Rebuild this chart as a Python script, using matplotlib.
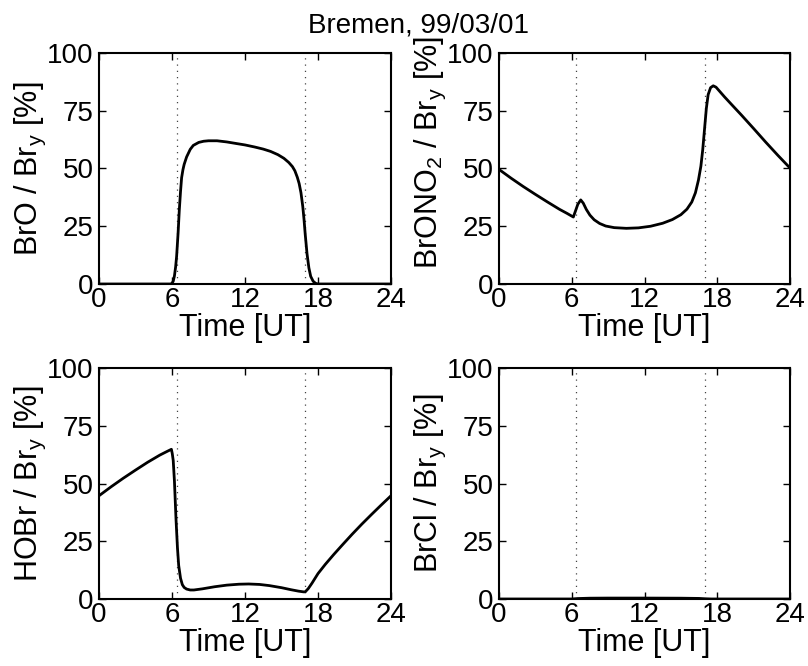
import matplotlib
matplotlib.use('Agg')
import matplotlib.pyplot as plt

plt.rcParams['font.family'] = ['Liberation Sans', 'DejaVu Sans']
plt.rcParams['mathtext.fontset'] = 'custom'
plt.rcParams['mathtext.rm'] = 'Liberation Sans'
plt.rcParams['mathtext.it'] = 'Liberation Sans'
plt.rcParams['mathtext.default'] = 'regular'

title = "Bremen, 99/03/01"
sun_times = [6.38, 16.95]
x_ticks = [0, 6, 12, 18, 24]
y_ticks = [0, 25, 50, 75, 100]

bro_t = [0, 5.9, 6.0, 6.1, 6.2, 6.3, 6.38, 6.5, 6.6, 6.7, 6.79, 6.9, 7.0, 7.2, 7.5, 7.75,
         8.2, 8.6, 9.0, 9.7, 10.5, 11.3, 12.0, 12.8, 13.5, 14.1, 14.7, 15.2, 15.6, 15.9,
         16.1, 16.3, 16.45, 16.6, 16.75, 16.85, 16.95, 17.1, 17.25, 17.4, 17.6, 17.8, 18.0, 24]
bro_v = [0, 0, 0.3, 1.2, 3.5, 7.5, 12, 22, 32, 40, 46, 49.5, 51.8, 55, 58.3, 60,
         61.3, 61.8, 62.0, 62.0, 61.5, 60.8, 60.2, 59.3, 58.4, 57.4, 56.0, 54.4, 52.6, 50.8,
         49.0, 46.2, 43.5, 39.5, 33.5, 28, 21.5, 13, 7, 3.3, 1.2, 0.3, 0, 0]

brono2_t = [0, 1, 2, 3, 4, 5, 5.6, 6.13, 6.3, 6.5, 6.74, 6.95, 7.2, 7.5, 7.85, 8.3, 8.8,
            9.5, 10.5, 11.5, 12.5, 13.5, 14.3, 15.0, 15.5, 15.9, 16.2, 16.45, 16.65, 16.8,
            16.95, 17.1, 17.25, 17.45, 17.67, 17.9, 18.2, 18.6, 19.2, 20.0, 21.0, 22.0, 23.0, 24]
brono2_v = [49.6, 45.8, 42.2, 38.8, 35.5, 32.3, 30.6, 29.0, 31.5, 34.5, 36.4, 35, 32.3, 29.8,
            27.8, 26.2, 25.1, 24.4, 24.1, 24.3, 25.0, 26.3, 27.9, 30.0, 32.4, 35.5, 39.5, 45,
            51, 58, 67, 76, 82, 85, 85.8, 85.2, 83.4, 81.0, 77.6, 73.1, 67.3, 61.4, 55.7, 50.2]

hobr_t = [0, 1, 2, 3, 4, 5, 5.6, 5.95, 6.02, 6.1, 6.2, 6.33, 6.45, 6.55, 6.7, 6.85, 7.0,
          7.2, 7.5, 7.8, 8.5, 9.5, 10.5, 11.5, 12.3, 13.2, 14.0, 15.0, 15.8, 16.4, 16.8,
          16.95, 17.2, 17.5, 18.0, 18.6, 19.3, 20.0, 20.8, 21.6, 22.4, 23.2, 24]
hobr_v = [44.7, 48.6, 52.3, 55.8, 59.2, 62.3, 63.9, 64.8, 63, 60, 51, 34.5, 22, 14.5, 9, 6.2,
          5, 4.3, 3.9, 3.9, 4.4, 5.3, 6.0, 6.4, 6.5, 6.3, 5.8, 4.9, 4.0, 3.4, 3.1, 3.1, 4.5,
          6.8, 11, 15, 19.3, 23.4, 28, 32.4, 36.6, 40.7, 44.7]

brcl_t = [0, 6.0, 6.5, 7.5, 9, 12, 15, 16.5, 17.0, 17.5, 24]
brcl_v = [0, 0, 0.2, 0.35, 0.4, 0.4, 0.35, 0.25, 0.1, 0, 0]

panels = [
    (bro_t, bro_v, "BrO / Br$_y$ [%]", 0.5),
    (brono2_t, brono2_v, "BrONO$_2$ / Br$_y$ [%]", 0.57),
    (hobr_t, hobr_v, "HOBr / Br$_y$ [%]", 0.5),
    (brcl_t, brcl_v, "BrCl / Br$_y$ [%]", 0.5),
]

positions = [
    [99/808, 1 - 284/666, 292/808, 231/666],
    [499/808, 1 - 284/666, 291/808, 231/666],
    [99/808, 1 - 599/666, 292/808, 231/666],
    [499/808, 1 - 599/666, 291/808, 231/666],
]

fig = plt.figure(figsize=(8.08, 6.66), dpi=100)
for (t, v, lab, ly), pos in zip(panels, positions):
    ax = fig.add_axes(pos)
    for s in sun_times:
        ax.axvline(s, color='#444444', lw=0.9, linestyle=(0, (1, 4)), zorder=1)
    ax.plot(t, v, color='black', lw=2.0, zorder=3)
    ax.set_xlim(0, 24)
    ax.set_ylim(0, 100)
    ax.set_xticks(x_ticks)
    ax.set_yticks(y_ticks)
    ax.tick_params(direction='in', top=True, right=True, length=5, width=1,
                   labelsize=20)
    ax.tick_params(axis='x', pad=2)
    ax.tick_params(axis='y', pad=4)
    for sp in ax.spines.values():
        sp.set_linewidth(1.5)
    ax.set_xlabel("Time [UT]", fontsize=22, labelpad=0)
    ax.set_ylabel(lab, fontsize=22, labelpad=-1)
    ax.yaxis.label.set_y(ly)

fig.text(418/808, 1 - 32/666, title, fontsize=20, ha='center', va='baseline')

fig.savefig('out.png', dpi=100)
